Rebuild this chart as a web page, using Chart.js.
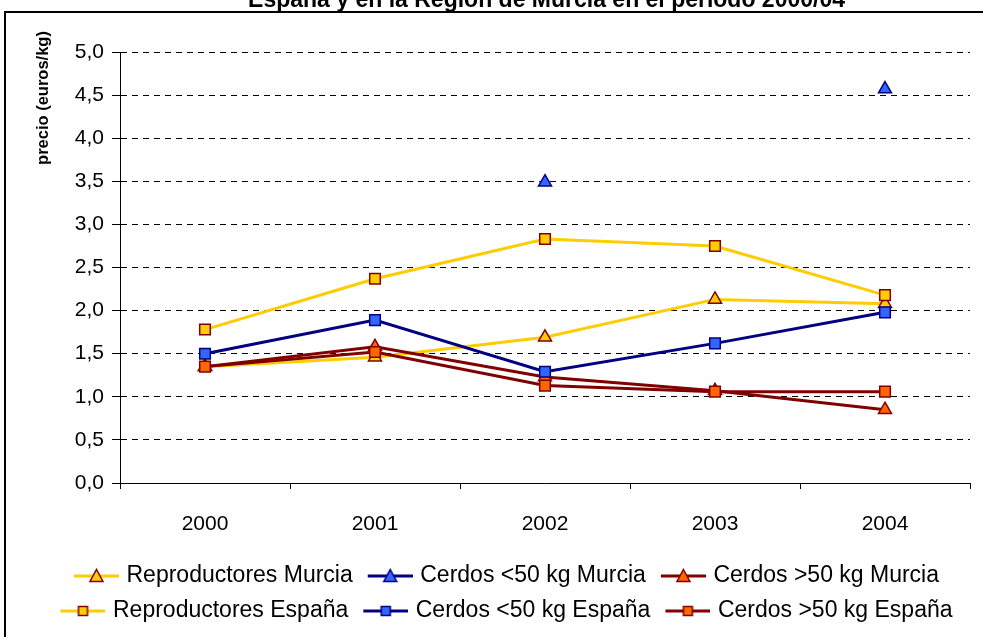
<!DOCTYPE html>
<html>
<head>
<meta charset="utf-8">
<script src="https://cdn.jsdelivr.net/npm/chart.js@4/dist/chart.umd.min.js"></script>
<style>
  html, body { margin: 0; padding: 0; background: #fff; }
  #wrap { width: 983px; height: 637px; }
</style>
</head>
<body>
<div id="wrap"><canvas id="preciosChart" width="983" height="637"></canvas></div>
<script>
// categorias (años)
const years = ['2000', '2001', '2002', '2003', '2004'];

// precios en euros/kg
const reproMurcia   = [1.35, 1.46, 1.69, 2.13, 2.08];
const cerdosMenorMurcia = [null, null, 3.49, null, 4.57];
const cerdosMayorMurcia = [1.35, 1.58, 1.23, 1.07, 0.85];
const reproEspana   = [1.78, 2.37, 2.83, 2.75, 2.18];
const cerdosMenorEspana = [1.50, 1.89, 1.29, 1.62, 1.98];
const cerdosMayorEspana = [1.35, 1.52, 1.13, 1.06, 1.06];

const seriesNames = [
    'Reproductores Murcia', 'Cerdos <50 kg Murcia', 'Cerdos >50 kg Murcia',
    'Reproductores España', 'Cerdos <50 kg España', 'Cerdos >50 kg España'
];

const FONT = "'Liberation Sans', Arial, sans-serif";
const YELLOW = '#FFCC00', NAVY = '#000080', DARKRED = '#800000';
const BLUE = '#3366FF', ORANGE = '#FF6600';

// small legend sample: line with the marker in the middle
// (canvas is wider than the legend box so the gap to the text stays small)
function makeSample(lineColor, fill, border, shape) {
    const c = document.createElement('canvas');
    c.width = 52; c.height = 16;
    const g = c.getContext('2d');
    g.strokeStyle = lineColor;
    g.lineWidth = 3;
    g.beginPath(); g.moveTo(7, 8); g.lineTo(52, 8); g.stroke();
    const cx = 29.5;
    g.fillStyle = fill;
    g.strokeStyle = border;
    g.lineWidth = 1.5;
    g.beginPath();
    if (shape === 'triangle') {
        g.moveTo(cx, 1.5); g.lineTo(cx + 6.5, 13.5); g.lineTo(cx - 6.5, 13.5); g.closePath();
    } else {
        g.rect(cx - 4.5, 3.5, 9, 9);
    }
    g.fill(); g.stroke();
    return c;
}

function serie(label, data, line, fill, border, shape, order) {
    return {
        label: label,
        data: data,
        borderColor: line,
        backgroundColor: fill,
        borderWidth: 3,
        pointStyle: shape,
        pointRadius: 7.5,
        pointHoverRadius: 7.5,
        pointBackgroundColor: fill,
        pointBorderColor: border,
        pointBorderWidth: 1.5,
        spanGaps: false,
        tension: 0,
        order: order,
        sample: makeSample(line, fill, border, shape)
    };
}

const datasets = [
    serie(seriesNames[0], reproMurcia, YELLOW, YELLOW, DARKRED, 'triangle', 6),
    serie(seriesNames[1], cerdosMenorMurcia, NAVY, BLUE, NAVY, 'triangle', 5),
    serie(seriesNames[2], cerdosMayorMurcia, DARKRED, ORANGE, DARKRED, 'triangle', 4),
    serie(seriesNames[3], reproEspana, YELLOW, YELLOW, DARKRED, 'rect', 3),
    serie(seriesNames[4], cerdosMenorEspana, NAVY, BLUE, NAVY, 'rect', 2),
    serie(seriesNames[5], cerdosMayorEspana, DARKRED, ORANGE, DARKRED, 'rect', 1)
];

// frame, cut-off title and y axis title
const decor = {
    id: 'decor',
    beforeDraw(chart) {
        const ctx = chart.ctx;
        ctx.save();
        ctx.fillStyle = '#fff';
        ctx.fillRect(0, 0, chart.width, chart.height);
        ctx.restore();
    },
    afterDraw(chart) {
        const ctx = chart.ctx;
        ctx.save();
        ctx.strokeStyle = '#000';
        ctx.lineWidth = 2;
        ctx.beginPath();
        ctx.moveTo(5, 640); ctx.lineTo(5, 12); ctx.lineTo(990, 12);
        ctx.stroke();

        ctx.fillStyle = '#000';
        ctx.font = 'bold 23px ' + FONT;
        ctx.textAlign = 'right';
        ctx.textBaseline = 'alphabetic';
        ctx.fillText('España y en la Región de Murcia en el periodo 2000/04', 845, 7);

        ctx.font = 'bold 16.5px ' + FONT;
        ctx.translate(48, 98);
        ctx.rotate(-Math.PI / 2);
        ctx.textAlign = 'center';
        ctx.fillText('precio (euros/kg)', 0, 0);
        ctx.restore();
    }
};

Chart.defaults.font.family = FONT;
Chart.defaults.color = '#000';

new Chart(document.getElementById('preciosChart'), {
    type: 'line',
    data: { labels: years, datasets: datasets },
    options: {
        responsive: false,
        animation: false,
        devicePixelRatio: 1,
        layout: { padding: { left: 40, right: 13, top: 52, bottom: 4.5 } },
        plugins: {
            title: { display: false },
            tooltip: { enabled: false },
            legend: {
                position: 'bottom',
                labels: {
                    usePointStyle: true,
                    pointStyleWidth: 44,
                    padding: 12,
                    color: '#000',
                    font: { size: 23 },
                    sort: (a, b) => a.datasetIndex - b.datasetIndex,
                    generateLabels(chart) {
                        const items = Chart.defaults.plugins.legend.labels.generateLabels(chart);
                        items.forEach(it => { it.pointStyle = chart.data.datasets[it.datasetIndex].sample; });
                        return items;
                    }
                }
            }
        },
        scales: {
            x: {
                offset: true,
                afterFit(scale) { scale.height = 69.5; },
                grid: {
                    offset: true,
                    drawOnChartArea: false,
                    drawTicks: true,
                    tickLength: 6,
                    tickColor: '#000'
                },
                border: { color: '#000', width: 1 },
                ticks: { font: { size: 21 }, padding: 23, color: '#000' }
            },
            y: {
                min: 0,
                max: 5,
                afterFit(scale) { scale.width = 80; },
                grid: {
                    color: '#000',
                    lineWidth: 1,
                    tickLength: 8,
                    tickColor: '#000'
                },
                border: { color: '#000', width: 1, dash: [6, 5] },
                ticks: {
                    stepSize: 0.5,
                    padding: 8,
                    font: { size: 21 },
                    color: '#000',
                    callback: v => v.toFixed(1).replace('.', ',')
                }
            }
        }
    },
    plugins: [decor]
});
</script>
</body>
</html>
